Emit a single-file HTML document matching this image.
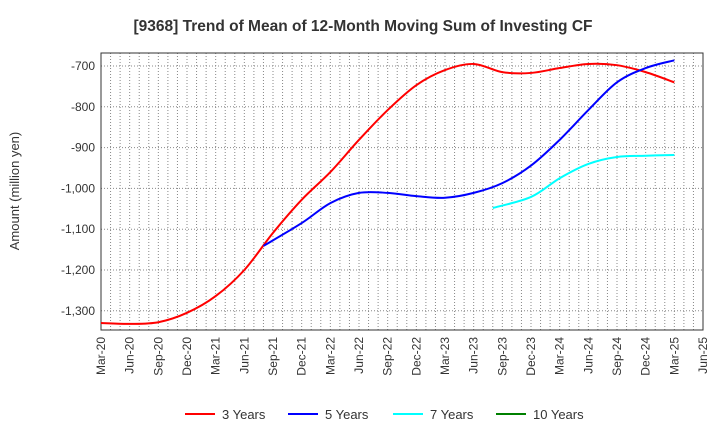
<!DOCTYPE html>
<html><head><meta charset="utf-8"><style>
body{margin:0;background:#fff;font-family:"Liberation Sans",sans-serif}
svg text{font-family:"Liberation Sans",sans-serif;fill:#333}
</style></head><body>
<svg width="720" height="440" xmlns="http://www.w3.org/2000/svg">
<text x="363" y="31" text-anchor="middle" font-size="15.5" font-weight="bold">[9368]  Trend of Mean of 12-Month Moving Sum of Investing CF</text>
<text transform="translate(19,191) rotate(-90)" text-anchor="middle" font-size="13">Amount (million yen)</text>
<g id="grid"></g><g id="axes"></g><g id="series"></g><g id="legend"></g>
</svg>
<script>
const xLabels=["Mar-20","Jun-20","Sep-20","Dec-20","Mar-21","Jun-21","Sep-21","Dec-21","Mar-22","Jun-22","Sep-22","Dec-22","Mar-23","Jun-23","Sep-23","Dec-23","Mar-24","Jun-24","Sep-24","Dec-24","Mar-25","Jun-25"];
const yTicks=[-700,-800,-900,-1000,-1100,-1200,-1300];
const m3=[0,3,6,9,12,15,18,21,24,27,30,33,36,39,42,45,48,51,54,57,60];
const v3=[-1330,-1332,-1328,-1305,-1264,-1200,-1109,-1028,-960,-881,-808,-747,-710,-695,-715,-717,-705,-695,-698,-715,-740];
const m5=[17,21,24,27,30,33,36,39,42,45,48,51,54,57,60];
const v5=[-1141,-1085,-1036,-1011,-1011,-1019,-1023,-1011,-987,-944,-881,-808,-740,-705,-686];
const m7=[41,45,48,51,54,57,60];
const v7=[-1048,-1021,-975,-940,-923,-920,-918];
const m10=[];const v10=[];
const NS="http://www.w3.org/2000/svg";
const L=101,R=703,T=53,B=330;
const X=m=>L+m*(R-L)/63;
const Y=v=>66+(-700-v)*0.408;
function mk(t,a,p){const e=document.createElementNS(NS,t);for(const k in a)e.setAttribute(k,a[k]);p.appendChild(e);return e;}
const g=document.getElementById('grid'),ax=document.getElementById('axes'),s=document.getElementById('series'),lg=document.getElementById('legend');
for(let m=1;m<63;m++){const l=mk('line',{x1:X(m),x2:X(m),y1:T,y2:B,stroke:'#888','stroke-dasharray':'1,2','stroke-width':1},g);

}
yTicks.forEach(v=>{const l=mk('line',{x1:L,x2:R,y1:Y(v),y2:Y(v),stroke:'#888','stroke-dasharray':'1,2'},g);


const t=mk('text',{x:L-6,y:Y(v)+4,'text-anchor':'end','font-size':12},ax);t.textContent=v.toLocaleString('en-US');

});
const fr=mk('rect',{x:L,y:T,width:R-L,height:B-T,fill:'none',stroke:'#333'},ax);


xLabels.forEach((lab,i)=>{const x=X(i*3);const t=mk('text',{transform:`translate(${x+4},${B+7}) rotate(-90)`,'text-anchor':'end','font-size':12},ax);t.textContent=lab;

});
function path(ms,vs){if(!ms.length)return'';const p=ms.map((m,i)=>[X(m),Y(vs[i])]);let d=`M${p[0][0]},${p[0][1]}`;
for(let i=0;i<p.length-1;i++){const p0=p[i-1]||p[i],p1=p[i],p2=p[i+1],p3=p[i+2]||p2;
d+=` C${p1[0]+(p2[0]-p0[0])/6},${p1[1]+(p2[1]-p0[1])/6} ${p2[0]-(p3[0]-p1[0])/6},${p2[1]-(p3[1]-p1[1])/6} ${p2[0]},${p2[1]}`;}return d;}
const ser=[[m3,v3,'#ff0000','3 Years','series-3-years'],[m5,v5,'#0000ff','5 Years','series-5-years'],[m7,v7,'#00ffff','7 Years','series-7-years'],[m10,v10,'#008000','10 Years','series-10-years']];
const lx=[185,288,393,496];
ser.forEach((q,i)=>{if(q[0].length){const p=mk('path',{d:path(q[0],q[1]),fill:'none',stroke:q[2],'stroke-width':2},s);

}
const ll=mk('line',{x1:lx[i],x2:lx[i]+30,y1:414,y2:414,stroke:q[2],'stroke-width':2},lg);


const t=mk('text',{x:lx[i]+37,y:419,'font-size':13},lg);t.textContent=q[3];

});
</script>
</body></html>
